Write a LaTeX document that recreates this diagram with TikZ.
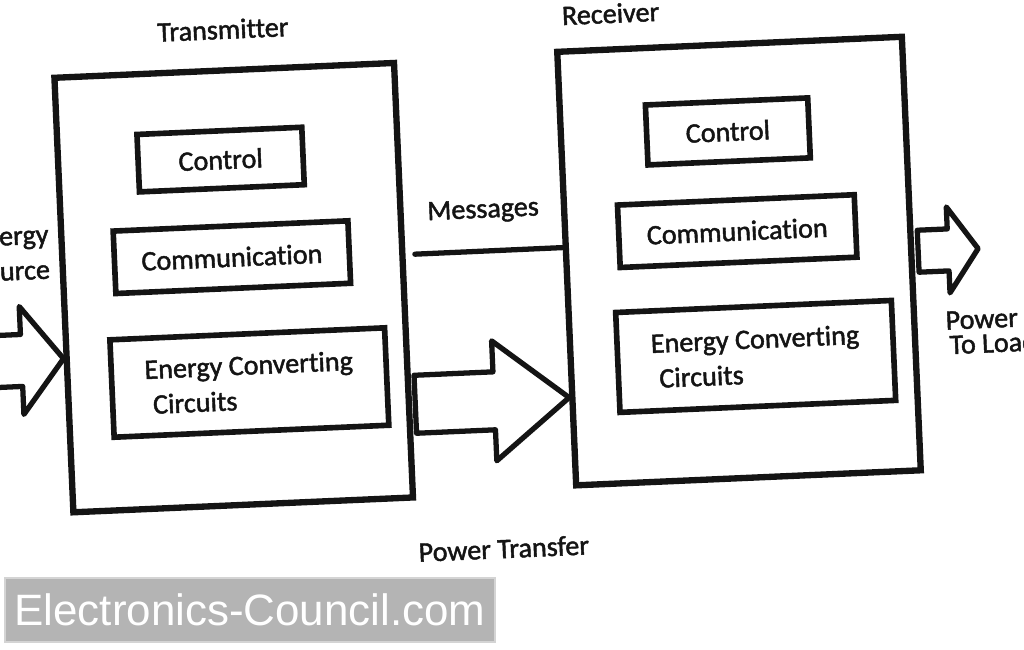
\documentclass[tikz,border=0pt]{standalone}
\usepackage{fontspec}
\setmainfont{Carlito}[Ligatures=NoCommon, FakeBold=1.6]
\newfontfamily\markfont{Liberation Sans}
\usetikzlibrary{positioning, calc}
\definecolor{inkBlack}{HTML}{141414}
\definecolor{markGray}{HTML}{B4B4B4}
\definecolor{markEdge}{HTML}{D4D4D4}
\tikzset{
  unitBox/.style={rectangle, draw=inkBlack, line width=3.6pt,
                  minimum width=6.8cm, minimum height=8.7cm},
  partBox/.style={rectangle, draw=inkBlack, line width=3.2pt, align=center,
                  text=inkBlack, font=\fontsize{16}{20}\selectfont, inner sep=4pt},
  tag/.style={text=inkBlack, font=\fontsize{16}{20}\selectfont, inner sep=0pt},
  fatArrow/.style={draw=inkBlack, line width=3pt, line join=round},
  msgLine/.style={draw=inkBlack, line width=3pt, line cap=round},
}

\begin{document}
\begin{tikzpicture}[x=0.02cm, y=-0.02cm]
    \clip (0,0) rectangle (1024,649);
    \fill[white] (0,0) rectangle (1024,649);
    \begin{scope}[rotate around={2.5:(512,300)}, transform shape]
    \node[unitBox] (tx) at (234.5,275.5) {};
    \node[unitBox, minimum width=6.9cm, minimum height=8.68cm] (rx) at (740.5,271) {};
    \node[tag] (txName) at (235,17) {Transmitter};
    \node[tag] (rxName) at (623,18) {Receiver};
    \node[partBox, minimum width=3.3cm, minimum height=1.15cm] (ctrlT) at (227,147) {Control};
    \node[partBox, minimum width=4.7cm, minimum height=1.25cm] (commT) at (234,245) {Communication};
    \node[partBox, align=left, minimum width=5.5cm, minimum height=1.95cm] (convT) at (246,371)
          {Energy Converting\\\hspace*{0.14cm}Circuits};
    \node[partBox, minimum width=3.25cm, minimum height=1.2cm] (ctrlR) at (735,141) {Control};
    \node[partBox, minimum width=4.74cm, minimum height=1.25cm] (commR) at (740,241) {Communication};
    \node[partBox, align=left, minimum width=5.52cm, minimum height=2cm] (convR) at (753,367)
          {Energy Converting\\\hspace*{0.14cm}Circuits};
    \node[tag] (msgName) at (487,210) {Messages};
    \node[tag] (powName) at (493,548) {Power Transfer};
    \node[tag, align=center, anchor=east] (srcName) at (52,232) {Energy\\Source};
    \node[tag, align=left, anchor=west, font=\fontsize{16}{14}\selectfont] (loadName) at (944,352)
          {Power\\\hspace*{0.06cm}To Load};
    \coordinate (msgStart) at (417,250);
    \coordinate (loadTip) at (980,269);
    \draw[msgLine] (msgStart) -- ($(rx.north west)!0.452!(rx.south west)$);
    \draw[fatArrow] ($(tx.north west)!0.644!(tx.south west)$) -- ++(-42,-54) -- ++(0,28)
          -- ++(-80,0) -- ++(0,52) -- ++(80,0) -- ++(0,28) -- cycle;
    \draw[fatArrow] ($(rx.north west)!0.793!(rx.south west)$) -- ++(-75,-60) -- ++(0,31)
          -- ++(-79,0) -- ++(0,58) -- ++(79,0) -- ++(0,31) -- cycle;
    \draw[fatArrow] (loadTip) -- ++(-30,-43) -- ++(0,22) -- ++(-30,0) -- ++(0,42)
          -- ++(30,0) -- ++(0,22) -- cycle;
    \end{scope}
    \node[fill=markGray, draw=markEdge, line width=1.5pt, minimum width=9.8cm,
          minimum height=1.28cm, inner sep=0pt, text=white,
          font=\markfont\fontsize{25}{30}\selectfont] (mark) at (250,610) {Electronics-Council.com};
\end{tikzpicture}
\end{document}
